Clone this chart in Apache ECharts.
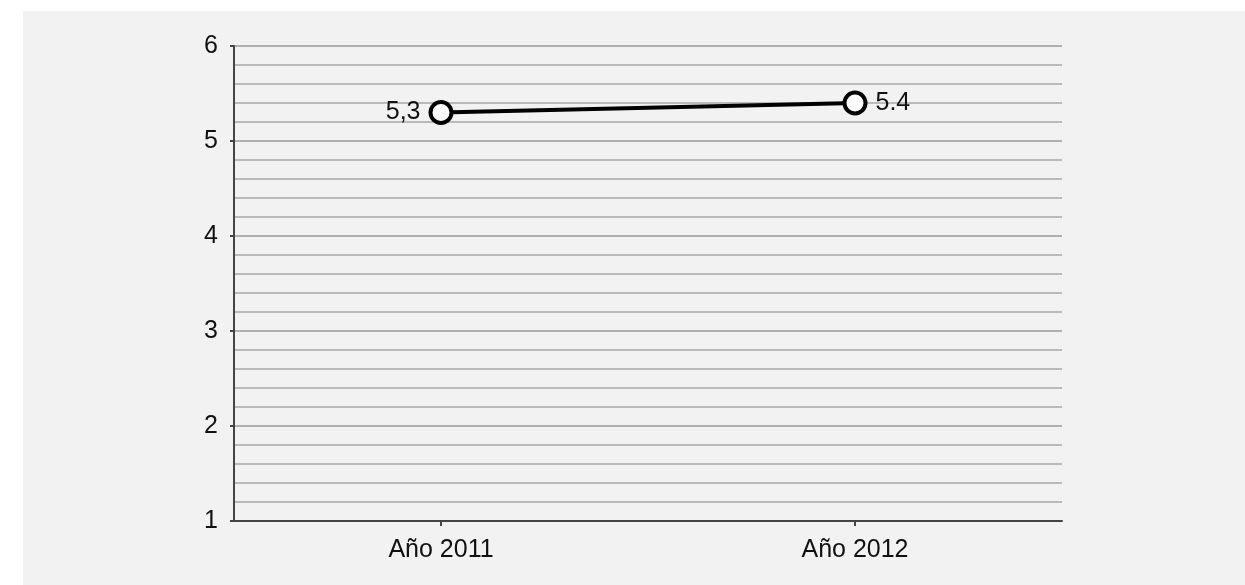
<!DOCTYPE html>
<html><head><meta charset="utf-8">
<script src="https://cdn.jsdelivr.net/npm/echarts@6/dist/echarts.min.js"></script>
<style>
html,body{margin:0;padding:0;background:#fff;width:1245px;height:585px;overflow:hidden}
#c{position:absolute;left:23px;top:11px;width:1222px;height:574px;background:#f2f2f2}
</style></head><body><div id="c"></div>
<script>
const categories = ['Año 2011', 'Año 2012'];
const values = [5.3, 5.4];
const valueLabels = ['5,3', '5.4'];
const yTicks = [1, 2, 3, 4, 5, 6];

const chart = echarts.init(document.getElementById('c'), null, {renderer: 'canvas'});
chart.setOption({
  backgroundColor: '#f2f2f2',
  animation: false,
  grid: {left: 211, top: 35, right: 183, bottom: 64, containLabel: false},
  xAxis: {
    type: 'category', data: categories, boundaryGap: true,
    axisLine: {lineStyle: {color: '#444', width: 2}},
    axisTick: {show: true, alignWithLabel: true, length: 5, lineStyle: {color: '#444', width: 2}},
    axisLabel: {color: '#111', fontSize: 25, fontFamily: 'Liberation Sans, Arial', margin: 17},
    splitLine: {show: false}
  },
  yAxis: {
    type: 'value', min: yTicks[0], max: yTicks[yTicks.length - 1], interval: 1,
    axisLine: {show: true, lineStyle: {color: '#444', width: 2}},
    axisTick: {show: true, length: 4, lineStyle: {color: '#444', width: 2}},
    axisLabel: {color: '#111', fontSize: 25, fontFamily: 'Liberation Sans, Arial', margin: 16},
    splitLine: {show: true, lineStyle: {color: '#9a9a9a', width: 1.5}},
    minorTick: {show: false, splitNumber: 5},
    minorSplitLine: {show: true, lineStyle: {color: '#a8a8a8', width: 1.5}}
  },
  series: [{
    type: 'line',
    data: values.map((v, i) => ({value: v, label: {position: i === 0 ? 'left' : 'right'}})),
    symbol: 'circle', symbolSize: 21,
    lineStyle: {color: '#000', width: 4},
    itemStyle: {color: '#fff', borderColor: '#000', borderWidth: 4},
    label: {
      show: true, fontSize: 25, color: '#111', fontFamily: 'Liberation Sans, Arial', distance: 8,
      formatter: p => valueLabels[p.dataIndex]
    }
  }]
});
</script></body></html>
